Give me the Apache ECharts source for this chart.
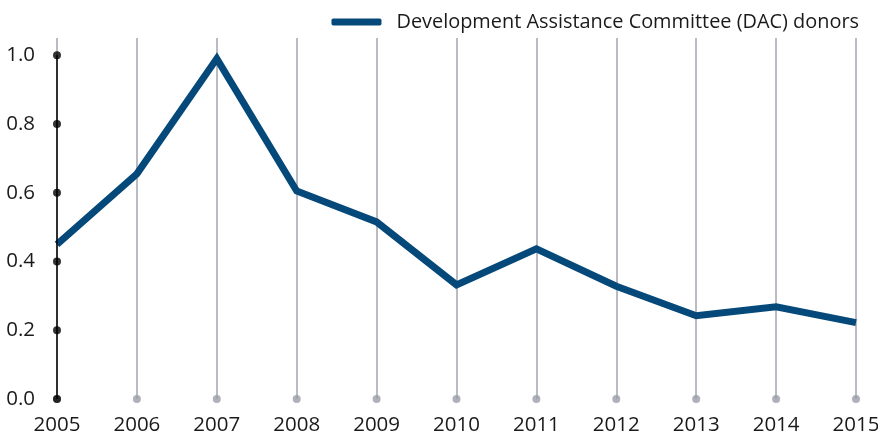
<!DOCTYPE html>
<html>
<head>
<meta charset="utf-8">
<script src="https://cdn.jsdelivr.net/npm/echarts@6/dist/echarts.min.js"></script>
<style>
  html, body { margin: 0; padding: 0; background: #fff; }
  #chart { width: 878px; height: 437px; }
</style>
</head>
<body>
<div id="chart"></div>
<script>
var years = ['2005', '2006', '2007', '2008', '2009', '2010', '2011', '2012', '2013', '2014', '2015'];
var dacValues = [0.45, 0.655, 0.99, 0.605, 0.515, 0.332, 0.437, 0.328, 0.242, 0.268, 0.222];
var yTicks = [0, 0.2, 0.4, 0.6, 0.8, 1.0];
var seriesName = 'Development Assistance Committee (DAC) donors';

var baseDots = years.map(function (y) { return [y, 0]; });
var axisDots = yTicks.map(function (v) { return [years[0], v]; });

var myChart = echarts.init(document.getElementById('chart'));
myChart.setOption({
  animation: false,
  grid: { left: 57, right: 22, top: 38, bottom: 38, outerBoundsMode: 'none', containLabel: false },
  legend: {
    data: [seriesName],
    right: 14,
    top: 7,
    icon: 'roundRect',
    itemWidth: 50,
    itemHeight: 7,
    itemGap: 14,
    textStyle: { fontFamily: 'Open Sans', fontSize: 19.9, color: '#1a1a1a', padding: [0, 0, 0, 10] }
  },
  xAxis: {
    type: 'category',
    data: years,
    boundaryGap: false,
    axisLine: { show: false },
    axisTick: { show: false },
    axisLabel: { fontFamily: 'Open Sans', fontSize: 20.5, color: '#1a1a1a', margin: 16 },
    splitLine: { show: true, lineStyle: { color: '#a3a6af', width: 1.5 } }
  },
  yAxis: {
    type: 'value',
    min: 0,
    max: 1.05,
    interval: 0.2,
    axisLine: { show: false },
    axisTick: { show: false },
    splitLine: { show: false },
    axisLabel: {
      fontFamily: 'Open Sans', fontSize: 20.5, color: '#1a1a1a', margin: 22,
      formatter: function (v) { return v > 1.001 ? '' : v.toFixed(1); }
    }
  },
  series: [
    {
      name: 'base',
      type: 'scatter',
      data: baseDots,
      symbolSize: 8,
      itemStyle: { color: '#9a9ea8' },
      silent: true,
      z: 2
    },
    {
      name: 'axis',
      type: 'scatter',
      data: axisDots,
      symbolSize: 8,
      itemStyle: { color: '#000' },
      silent: true,
      z: 4,
      markLine: {
        silent: true,
        symbol: ['none', 'none'],
        label: { show: false },
        lineStyle: { color: '#000', width: 1.5, type: 'solid' },
        data: [[{ coord: [years[0], 0] }, { coord: [years[0], 1.0] }]]
      }
    },
    {
      name: seriesName,
      type: 'line',
      data: dacValues,
      symbol: 'none',
      lineStyle: { color: '#05497a', width: 7, join: 'miter' },
      itemStyle: { color: '#05497a' },
      z: 3
    }
  ]
});
</script>
</body>
</html>
